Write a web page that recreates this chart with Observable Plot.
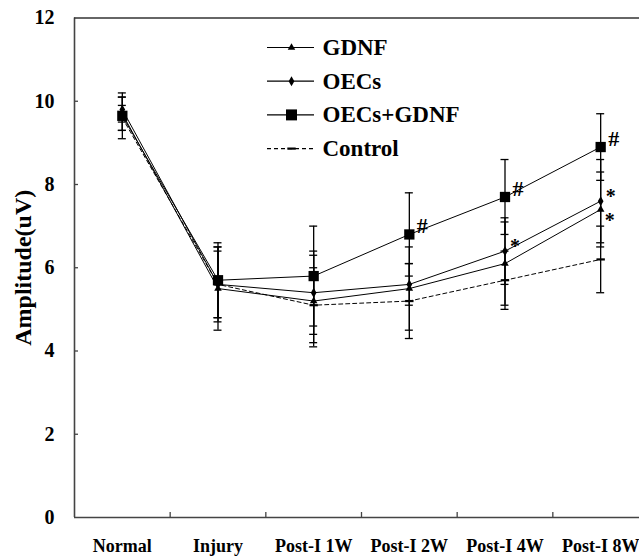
<!DOCTYPE html>
<html><head><meta charset="utf-8">
<script src="https://cdn.jsdelivr.net/npm/d3@7"></script>
<script src="https://cdn.jsdelivr.net/npm/@observablehq/plot@0.6"></script>
<style>html,body{margin:0;padding:0;background:#fff;overflow:hidden}</style>
</head><body><div id="chart"></div>
<script>
// ---- data ----
const categories = ["Normal", "Injury", "Post-I 1W", "Post-I 2W", "Post-I 4W", "Post-I 8W"];
const seriesNames = ["GDNF", "OECs", "OECs+GDNF", "Control"];
const gdnf      = [9.7, 5.5, 5.2, 5.5, 6.1, 7.4];
const gdnfErr   = [0.4, 1.0, 1.1, 1.0, 1.0, 0.9];
const oecs      = [9.8, 5.6, 5.4, 5.6, 6.4, 7.6];
const oecsErr   = [0.3, 0.9, 1.0, 0.5, 0.8, 1.0];
const combo     = [9.65, 5.7, 5.8, 6.8, 7.7, 8.9];
const comboErr  = [0.55, 0.9, 1.2, 1.0, 0.9, 0.8];
const control   = [9.6, 5.6, 5.1, 5.2, 5.7, 6.2];
const controlErr= [0.3, 0.8, 0.9, 0.9, 0.7, 0.8];
const yTicks = [0, 2, 4, 6, 8, 10, 12];
const hashMarks = ["", "", "", "#", "#", "#"];       // OECs+GDNF
const starOecs  = ["", "", "", "", "*", "*"];        // OECs
const starGdnf  = ["", "", "", "", "", "*"];         // GDNF

// ---- tidy rows ----
const values = [gdnf, oecs, combo, control];
const errs = [gdnfErr, oecsErr, comboErr, controlErr];
const rows = [];
seriesNames.forEach((s, k) => values[k].forEach((v, i) => rows.push({s, k, i, v, e: errs[k][i]})));
const caps = rows.flatMap(d => [{...d, y: d.v - d.e}, {...d, y: d.v + d.e}]);
const bySeries = s => rows.filter(d => d.s === s);

// ---- layout ----
const W = 639, H = 556;
const xRange = [74, 648];
const xs = d3.scaleLinear([-0.5, 5.5], xRange);
const ys = d3.scaleLinear([0, 12], [517, 17.5]);
const px2x = p => xs.invert(p), px2y = p => ys.invert(p);
const capW = 4 / 95.67;
const font = "Liberation Serif, Times New Roman, serif";

const dashSymbol = {draw(ctx, size) { const r = Math.sqrt(size / Math.PI); ctx.rect(-r * 1.4, -1.1, r * 2.8, 2.2); }};
const symbolOf = {"GDNF": "triangle", "OECs": "diamond", "OECs+GDNF": "square", "Control": dashSymbol};
const rOf = {"GDNF": 2.8, "OECs": 3.0, "OECs+GDNF": 5.8, "Control": 3};

const legendRows = seriesNames.map((name, k) => ({name, k}));
const legY = d => px2y(47 + d.k * 33.7);

const marks = [
  // frame
  Plot.ruleX([-0.5], {y1: 0, y2: 12, stroke: "#444", strokeWidth: 1.6}),
  Plot.ruleY([0], {x1: -0.5, x2: 5.5, stroke: "#444", strokeWidth: 1.6}),
  Plot.ruleY([12], {x1: -0.5, x2: 5.5, stroke: "#333", strokeWidth: 1.4}),
  // inward ticks
  Plot.ruleY(yTicks.slice(1, -1), {x1: -0.5, x2: -0.5 + 4 / 95.67, stroke: "#444", strokeWidth: 1.3}),
  Plot.ruleX(d3.range(0.5, 5, 1), {y1: 0, y2: 5 / 41.6, stroke: "#444", strokeWidth: 1.3}),
  Plot.axisY({ticks: yTicks, label: null, tickSize: 0, tickPadding: 20, fontSize: 20, fontWeight: "bold", fontFamily: font}),
  Plot.axisX({ticks: d3.range(6), label: null, tickSize: 0, tickPadding: 22, tickFormat: i => categories[i], fontSize: 18, fontWeight: "bold", fontFamily: font}),
  Plot.text(["Amplitude(uV)"], {frameAnchor: "left", textAnchor: "middle", dx: -51, rotate: -90, fontSize: 24, fontWeight: "bold", fontFamily: font}),
  // error bars
  Plot.ruleX(rows, {x: "i", y1: d => d.v - d.e, y2: d => d.v + d.e, stroke: "black", strokeWidth: 1.3}),
  Plot.ruleY(caps, {y: "y", x1: d => d.i - capW, x2: d => d.i + capW, stroke: "black", strokeWidth: 1.3}),
  // lines
  ...seriesNames.map(s => Plot.line(bySeries(s), {x: "i", y: "v", stroke: "black", strokeWidth: 1, strokeDasharray: s === "Control" ? "4,3" : null})),
  // markers
  ...seriesNames.map(s => Plot.dot(bySeries(s), {x: "i", y: "v", symbol: symbolOf[s], r: rOf[s], fill: "black", stroke: "none"})),
  // annotations
  Plot.text(bySeries("OECs+GDNF"), {x: "i", y: "v", text: d => hashMarks[d.i], dx: 13, dy: -8, fontSize: 22, fontWeight: "bold", fontFamily: font}),
  Plot.text(bySeries("OECs"), {x: "i", y: "v", text: d => starOecs[d.i], dx: 10, dy: -5, fontSize: 20, fontWeight: "bold", fontFamily: font}),
  Plot.text(bySeries("GDNF"), {x: "i", y: "v", text: d => starGdnf[d.i], dx: 9, dy: 11, fontSize: 20, fontWeight: "bold", fontFamily: font}),
  // legend
  Plot.ruleY(legendRows.filter(d => d.name !== "Control"), {y: legY, x1: px2x(267), x2: px2x(314), stroke: "black", strokeWidth: 1.2}),
  Plot.ruleY(legendRows.filter(d => d.name === "Control"), {y: legY, x1: px2x(267), x2: px2x(314), stroke: "black", strokeWidth: 1.2, strokeDasharray: "4,3"}),
  ...seriesNames.map(s => Plot.dot(legendRows.filter(d => d.name === s), {x: px2x(291), y: legY, symbol: symbolOf[s], r: s === "OECs+GDNF" ? 6.2 : rOf[s], fill: "black", stroke: "none"})),
  Plot.text(legendRows, {x: px2x(322), y: legY, text: "name", textAnchor: "start", fontSize: 23, fontWeight: "bold", fontFamily: font})
];

const chart = Plot.plot({
  width: W, height: H,
  marginLeft: 74, marginRight: 0, marginTop: 17.5, marginBottom: 39,
  x: {domain: [-0.5, 5.5], range: xRange, axis: null, label: null},
  y: {domain: [0, 12], range: [517, 17.5], axis: null, label: null},
  style: {fontFamily: font, color: "black", background: "white", overflow: "hidden"},
  marks
});
document.getElementById("chart").append(chart);
</script>
</body></html>
